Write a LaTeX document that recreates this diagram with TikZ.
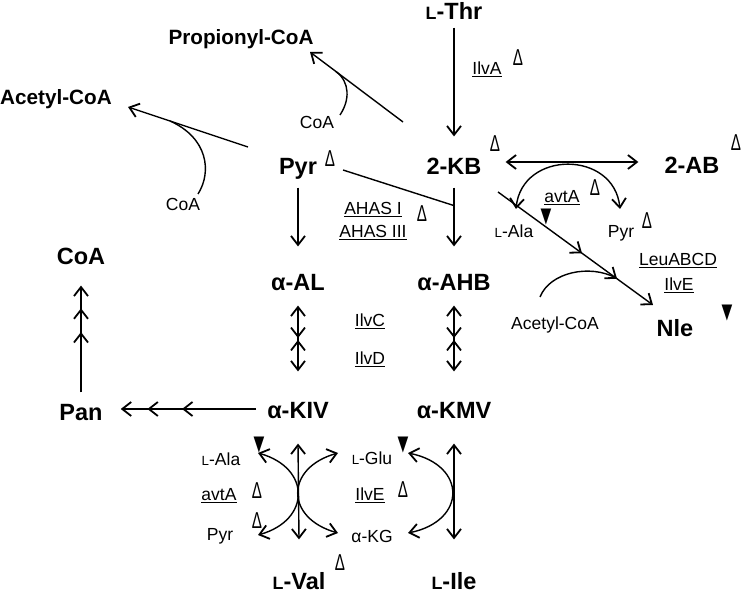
\documentclass[tikz,border=0pt]{standalone}
\usepackage{fontspec}
\setmainfont{Liberation Sans}
\newfontfamily\symfont{DejaVu Sans}
\usepackage{graphicx}
\usetikzlibrary{arrows.meta,decorations.markings,calc}
\newcommand{\Lsc}{\scalebox{0.76}{L}}
\newcommand{\ulx}[1]{\leavevmode\setbox0\hbox{#1}\rlap{\rule[-3pt]{\wd0}{0.9pt}}\box0}
\newcommand{\dlt}{\scalebox{0.66}[1]{Δ}}
\newcommand{\blk}{{\symfont\scalebox{0.7}[1.05]{▼}}}
\begin{document}
\begin{tikzpicture}[x=1pt,y=-1pt,
 >={Straight Barb[length=9pt,width=14pt,line width=1.8pt]},
 big/.style={font=\fontsize{23.5}{27}\selectfont\bfseries, inner sep=0pt, text height=16.8pt, text depth=0pt},
 mid/.style={font=\fontsize{20.7}{24}\selectfont\bfseries, inner sep=0pt, text height=14.8pt, text depth=0pt},
 lab/.style={font=\fontsize{17.5}{21}\selectfont, inner sep=0pt, text height=12.5pt, text depth=0pt},
 dl/.style={font=\fontsize{23}{26}\selectfont, inner sep=0pt, text height=16.5pt, text depth=0pt},
 bk/.style={font=\fontsize{20}{24}\selectfont, inner sep=0pt},
 ln/.style={line width=1.4pt},
 arr/.style={ln,->},
 darr/.style={ln,<->},
 two marks/.style n args={2}{postaction={decorate}, decoration={markings,
   mark=at position #1 with {\arrow{>}},
   mark=at position #2 with {\arrow{>}}}},
 mid pair/.style n args={2}{postaction={decorate}, decoration={markings,
   mark=at position #1 with {\arrow{>}},
   mark=at position #2 with {\arrowreversed{>}}}}
]
\useasboundingbox (0,0) rectangle (742,593);

% main compounds
\node[big] (thr) at (454,11) {\Lsc-Thr};
\node[mid] (propcoa) at (241,37) {Propionyl-CoA};
\node[mid] (acecoa) at (56,97) {Acetyl-CoA};
\node[big] (pyr) at (298,166) {Pyr};
\node[big] (kb) at (454,166) {2-KB};
\node[big] (ab) at (692,165) {2-AB};
\node[big] (coaL) at (81,256) {CoA};
\node[big] (aal) at (298,282) {α-AL};
\node[big] (ahb) at (454,282) {α-AHB};
\node[big] (nle) at (675,328) {Nle};
\node[big] (pan) at (81,412) {Pan};
\node[big] (kiv) at (298,410) {α-KIV};
\node[big] (kmv) at (454,410) {α-KMV};
\node[big] (val) at (299,581) {\Lsc-Val};
\node[big] (ile) at (454,581) {\Lsc-Ile};

% small labels
\node[lab] (ilvA) at (487,68) {\ulx{IlvA}};
\node[lab] (coa1) at (317,122) {CoA};
\node[lab] (coa2) at (183,204) {CoA};
\node[lab] (ahas1) at (373,208) {\ulx{AHAS I}};
\node[lab] (ahas3) at (373,231) {\ulx{AHAS III}};
\node[lab] (avt1) at (562,196) {\ulx{avtA}};
\node[lab] (ala1) at (514,231) {\Lsc-Ala};
\node[lab] (pyr2) at (621,231) {Pyr};
\node[lab] (leu) at (678,259) {\ulx{LeuABCD}};
\node[lab] (ilvE1) at (679,284) {\ulx{IlvE}};
\node[lab] (acecoa2) at (555,323) {Acetyl-CoA};
\node[lab] (ilvC) at (370,320) {\ulx{IlvC}};
\node[lab] (ilvD) at (370,358) {\ulx{IlvD}};
\node[lab] (ala2) at (221,459) {\Lsc-Ala};
\node[lab] (avt2) at (219,494) {\ulx{avtA}};
\node[lab] (pyr3) at (220,534) {Pyr};
\node[lab] (glu) at (372,458) {\Lsc-Glu};
\node[lab] (ilvE2) at (370,494) {\ulx{IlvE}};
\node[lab] (akg) at (372,536) {α-KG};

% open triangles
\node[dl] (d1) at (518,57) {\dlt};
\node[dl] (d2) at (330,158) {\dlt};
\node[dl] (d3) at (495,143) {\dlt};
\node[dl] (d4) at (736,142) {\dlt};
\node[dl] (d5) at (422,213) {\dlt};
\node[dl] (d6) at (595,187) {\dlt};
\node[dl] (d7) at (647,220) {\dlt};
\node[dl] (d8) at (257,490) {\dlt};
\node[dl] (d9) at (257,520) {\dlt};
\node[dl] (d10) at (403,489) {\dlt};
\node[dl] (d11) at (340,562) {\dlt};

% filled triangles
\node[bk] (t1) at (546,217) {\blk};
\node[bk] (t2) at (259,445) {\blk};
\node[bk] (t3) at (403,445) {\blk};
\node[bk] (t4) at (727,313) {\blk};

% helper coordinates
\coordinate (pcs) at ($(kb)+(-51,-44)$);
\coordinate (pce) at ($(propcoa)+(69,15)$);
\coordinate (acs) at ($(pyr)+(-50,-19)$);
\coordinate (ace) at ($(acecoa)+(72,10)$);
\coordinate (dgs) at ($(kb)+(44,26)$);
\coordinate (dge) at ($(nle)+(-22,-23)$);

% connectors
\draw[arr] ($(thr.south)+(0,8)$) -- ($(kb.north)+(0,-21)$);
\draw[arr] (pcs) -- (pce);
\draw[ln] ($(coa1)+(23,-7)$) .. controls (350,100) and (350,82) .. ($(pcs)!0.72!(pce)$);
\draw[arr] (acs) -- (ace);
\draw[ln] ($(coa2)+(15,-10)$) .. controls (212,172) and (208,138) .. ($(acs)!0.65!(ace)$);
\draw[ln] ($(pyr)+(45,4)$) -- ($(kb.south)+(0,31)$);
\draw[arr] ($(pyr.south)+(0,13)$) -- ($(aal.north)+(0,-27)$);
\draw[arr] ($(kb.south)+(0,13)$) -- ($(ahb.north)+(0,-27)$);
\draw[darr] ($(kb.east)+(24,-4)$) -- ($(ab.west)+(-26,-3)$);
\draw[darr] ($(ala1)+(2,-22)$) .. controls (522,150) and (614,150) .. ($(pyr2)+(-1,-22)$);
\draw[arr, two marks={0.542}{0.768}] (dgs) -- (dge);
\draw[ln] ($(acecoa2)+(-15,-26)$) .. controls (550,272) and (590,264) .. ($(dgs)!0.76!(dge)$);
\draw[darr, mid pair={0.493}{0.522}] ($(aal.south)+(0,15)$) -- ($(kiv.north)+(0,-30)$);
\draw[darr, mid pair={0.493}{0.522}] ($(ahb.south)+(0,15)$) -- ($(kmv.north)+(0,-30)$);
\draw[arr, two marks={0.547}{0.803}] ($(kiv.west)+(-11,-1)$) -- ($(pan.east)+(18,-3)$);
\draw[arr, two marks={0.565}{0.787}] ($(pan.north)+(0,-11)$) -- ($(coaL.south)+(0,21)$);
\draw[darr] ($(kiv.south)+(0,25)$) -- ($(val.north)+(0,-33)$);
\draw[darr] ($(kmv.south)+(0,25)$) -- ($(ile.north)+(0,-33)$);
\draw[darr] ($(ala2)+(37,-6)$) .. controls (311,468) and (311,520) .. ($(pyr3)+(38,1)$);
\draw[darr] ($(glu)+(-34,-5)$) .. controls (285,468) and (285,518) .. ($(akg)+(-34,-3)$);
\draw[darr] ($(glu)+(36,-5)$) .. controls (467,465) and (467,521) .. ($(akg)+(36,-3)$);
\end{tikzpicture}
\end{document}
